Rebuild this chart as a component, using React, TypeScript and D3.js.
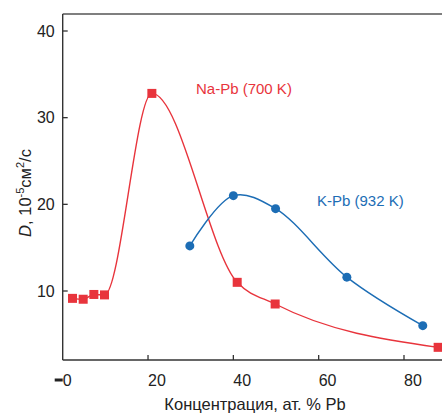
import React from 'react';
import * as d3 from 'd3';

// Na-Pb (700 K) — red squares
const naPbX = [2.3, 4.8, 7.3, 9.8, 20.9, 40.9, 49.8, 88];
const naPbD = [9.15, 9.05, 9.6, 9.55, 32.8, 11.0, 8.5, 3.5];

// K-Pb (932 K) — blue circles
const kPbX = [29.8, 40, 49.9, 66.6, 84.4];
const kPbD = [15.2, 21.0, 19.5, 11.6, 6.0];

const xTicks = [0, 20, 40, 60, 80];
const xTickLabels = ['0', '20', '40', '60', '80'];
const yTicks = [10, 20, 30, 40];

const RED = '#e8343c';
const BLUE = '#1c6db5';
const FONT = 'Arial, "Liberation Sans", sans-serif';

export default function App() {
  const width = 442;
  const height = 415;

  const x = d3.scaleLinear().domain([0, 80]).range([62.7, 404]);
  const y = d3.scaleLinear().domain([10, 40]).range([291, 31]);

  const plotTop = 14;
  const plotBottom = 360;
  const plotLeft = x(0);

  const naPts = naPbX.map((v, i) => [v, naPbD[i]] as [number, number]);
  const kPts = kPbX.map((v, i) => [v, kPbD[i]] as [number, number]);

  const redLine = d3.line<[number, number]>()
    .x(d => x(d[0]))
    .y(d => y(d[1]))
    .curve(d3.curveMonotoneX);

  const blueLine = d3.line<[number, number]>()
    .x(d => x(d[0]))
    .y(d => y(d[1]))
    .curve(d3.curveCatmullRom.alpha(0.5));

  return (
    <svg width={width} height={height} style={{ position: 'absolute', left: 0, top: 0, background: '#fff' }}>
      {/* frame */}
      <line x1={plotLeft} x2={width} y1={plotTop} y2={plotTop} stroke="#555" strokeWidth={1.3} />
      <line x1={plotLeft} x2={plotLeft} y1={plotTop} y2={plotBottom} stroke="#333" strokeWidth={1.4} />
      <line x1={plotLeft} x2={width} y1={plotBottom} y2={plotBottom} stroke="#333" strokeWidth={1.4} />

      {/* y ticks */}
      {yTicks.map(t => (
        <g key={t}>
          <line x1={plotLeft} x2={plotLeft + 5} y1={y(t)} y2={y(t)} stroke="#333" strokeWidth={1.3} />
          <text x={plotLeft - 8} y={y(t)} dy="0.36em" textAnchor="end" fontSize={16} fontFamily={FONT} fill="#222">{t}</text>
        </g>
      ))}

      {/* x ticks */}
      {xTicks.map((t, i) => (
        <g key={t}>
          {i > 0 && <line x1={x(t)} x2={x(t)} y1={plotBottom} y2={plotBottom - 5} stroke="#333" strokeWidth={1.3} />}
          <text x={x(t)} y={386} textAnchor="start" fontSize={16} fontFamily={FONT} fill="#222">{xTickLabels[i]}</text>
        </g>
      ))}
      <path d={`M${plotLeft - 8},${380} L${plotLeft},${380}`} stroke="#222" strokeWidth={3} />

      {/* axis titles */}
      <text x={255} y={410} textAnchor="middle" fontSize={16.5} fontFamily={FONT} fill="#222">
        Концентрация, ат. % Pb
      </text>
      <text transform="translate(31,193) rotate(-90)" textAnchor="middle" fontSize={16.5} fontFamily={FONT} fill="#222">
        <tspan fontStyle="italic">D</tspan>, 10<tspan dy={-7} fontSize={11}>-5</tspan>
        <tspan dy={7}>см</tspan><tspan dy={-7} fontSize={11}>2</tspan><tspan dy={7}>/с</tspan>
      </text>

      {/* curves */}
      <path d={redLine(naPts) || ''} fill="none" stroke={RED} strokeWidth={1.4} />
      <path d={blueLine(kPts) || ''} fill="none" stroke={BLUE} strokeWidth={1.4} />

      {/* markers */}
      {naPts.map((d, i) => (
        <rect key={i} x={x(d[0]) - 4.5} y={y(d[1]) - 4.5} width={9} height={9} fill={RED} />
      ))}
      {kPts.map((d, i) => (
        <circle key={i} cx={x(d[0])} cy={y(d[1])} r={4.5} fill={BLUE} />
      ))}

      {/* series labels */}
      <text x={196} y={94} fontSize={15} fontFamily={FONT} fill={RED}>Na-Pb (700 K)</text>
      <text x={317} y={206} fontSize={15} fontFamily={FONT} fill={BLUE}>K-Pb (932 K)</text>
    </svg>
  );
}
